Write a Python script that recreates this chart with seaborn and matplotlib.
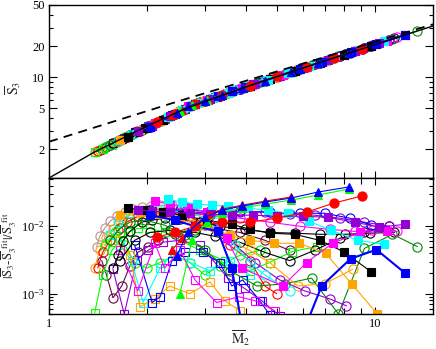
import matplotlib
matplotlib.use("Agg")
import matplotlib.pyplot as plt
import matplotlib.ticker as mticker
import seaborn as sns

# fit (solid) and large-M2 asymptote (dashed)
fit_m2 = [1.0, 1.2, 1.38, 1.7, 2.0, 2.6, 4.0, 6.4, 10.0, 15.0]
fit_s3 = [1.05, 1.46, 1.88, 2.6, 3.35, 4.9, 8.0, 13.1, 20.7, 31.3]
asym_m2 = [1.0, 2.5, 15.0]
asym_s3 = [2.36, 5.85, 32.5]

# --- filled markers ---
tri_blue_m2 = [2.46, 2.66, 3.00, 3.38, 3.89, 4.58, 5.50, 6.65, 8.27]
tri_blue_s3 = [4.45, 5.19, 5.91, 6.72, 7.80, 9.26, 11.21, 13.65, 17.08]
tri_blue_dev = [0.0036, 0.0081, 0.0136, 0.0173, 0.0199, 0.0228, 0.0262, 0.0321, 0.0382]

tri_green_m2 = [2.52, 2.74, 3.04, 3.38, 3.89, 4.58, 5.50, 6.65, 8.27]
tri_green_s3 = [4.7, 5.36, 5.99, 6.72, 7.8, 9.26, 11.21, 13.65, 17.08]
tri_green_dev = [0.0010, 0.0062, 0.0115, 0.0156, 0.0186, 0.0213, 0.0244, 0.0290, 0.0356]

tri_red_m2 = [2.38, 2.55, 2.80, 3.06, 3.38, 3.89, 4.58, 5.50]
tri_red_s3 = [4.25, 4.75, 5.49, 6.04, 6.72, 7.8, 9.26, 11.21]
tri_red_dev = [0.0044, 0.0066, 0.0104, 0.0146, 0.0179, 0.0205, 0.0236, 0.0271]

dot_red_m2 = [2.14, 2.43, 2.80, 3.38, 4.12, 5.01, 6.15, 7.44, 9.06]
dot_red_s3 = [3.65, 4.4, 5.49, 6.72, 8.28, 10.17, 12.59, 15.32, 18.76]
dot_red_dev = [0.0069, 0.0081, 0.0100, 0.0115, 0.0115, 0.0132, 0.0162, 0.0220, 0.0281]

sq_cyan_m2 = [2.31, 2.55, 2.84, 3.15, 3.53, 4.06, 4.68, 5.38, 6.24, 7.33, 8.81, 10.65]
sq_cyan_s3 = [4.07, 4.75, 5.57, 6.23, 7.03, 8.16, 9.47, 10.96, 12.78, 15.09, 18.23, 22.13]
sq_cyan_dev = [0.0253, 0.0228, 0.0213, 0.0205, 0.0199, 0.0186, 0.0173, 0.0156, 0.0119, 0.0087, 0.0062, 0.0054]

sq_violet_m2 = [1.87, 2.07, 2.34, 2.70, 3.11, 3.63, 4.21, 5.01, 5.98, 7.13, 8.63, 10.28, 12.35]
sq_violet_s3 = [2.97, 3.38, 4.15, 5.27, 6.14, 7.25, 8.48, 10.17, 12.23, 14.67, 17.85, 21.34, 25.73]
sq_violet_dev = [0.0173, 0.0167, 0.0162, 0.0156, 0.0151, 0.0146, 0.0146, 0.0141, 0.0141, 0.0136, 0.0115, 0.0097, 0.0107]

sq_black_m2 = [1.74, 1.97, 2.23, 2.55, 3.04, 3.63, 4.12, 4.74, 5.65, 6.74, 7.98, 9.72]
sq_black_s3 = [2.65, 3.22, 3.87, 4.75, 5.99, 7.25, 8.28, 9.6, 11.53, 13.84, 16.47, 20.16]
sq_black_dev = [0.0186, 0.0173, 0.0162, 0.0146, 0.0123, 0.0107, 0.0090, 0.0079, 0.0076, 0.0062, 0.0042, 0.0021]

sq_magenta_m2 = [2.11, 2.34, 2.66, 3.04, 3.50, 3.89, 5.20, 6.15, 7.39, 8.94, 10.88]
sq_magenta_s3 = [3.55, 4.15, 5.19, 5.99, 6.97, 7.8, 10.57, 12.59, 15.22, 18.5, 22.62]
sq_magenta_dev = [0.0236, 0.0213, 0.0192, 0.0162, 0.0066, 0.0024, 0.0013, 0.0029, 0.0056, 0.0081, 0.0084]

sq_orange_m2 = [1.65, 1.90, 2.19, 2.52, 3.00, 3.58, 4.12, 4.88, 5.82, 7.03, 8.45, 10.14]
sq_orange_s3 = [2.44, 3.05, 3.73, 4.7, 5.91, 7.14, 8.28, 9.9, 11.89, 14.45, 17.46, 21.05]
sq_orange_dev = [0.0146, 0.0162, 0.0151, 0.0136, 0.0104, 0.0073, 0.0062, 0.0056, 0.0056, 0.0040, 0.0014, 0.0005]

sq_blue_m2 = [2.04, 2.43, 2.80, 3.29, 3.63, 3.97, 5.86, 6.84, 8.39, 10.07, 12.35]
sq_blue_s3 = [3.3, 4.4, 5.49, 6.52, 7.25, 7.97, 11.97, 14.05, 17.34, 20.9, 25.73]
sq_blue_dev = [0.0146, 0.0123, 0.0100, 0.0084, 0.0024, 0.0002, 0.0002, 0.0013, 0.0033, 0.0045, 0.0020]

# --- open markers ---
o_rosy_m2 = [1.40, 1.43, 1.48, 1.54, 1.61, 1.71, 1.81, 1.92, 2.05, 2.19, 2.38, 2.61]
o_rosy_s3 = [1.92, 1.98, 2.08, 2.2, 2.37, 2.6, 2.83, 3.1, 3.42, 3.72, 4.27, 4.9]
o_rosy_dev = [0.0050, 0.0071, 0.0093, 0.0119, 0.0141, 0.0162, 0.0179, 0.0192, 0.0199, 0.0205, 0.0205, 0.0199]

o_orange_m2 = [1.38, 1.43, 1.49, 1.57, 1.65, 1.74, 1.86, 2.01, 2.19, 2.43, 2.80, 3.22]
o_orange_s3 = [1.88, 1.98, 2.1, 2.28, 2.44, 2.65, 2.95, 3.32, 3.72, 4.4, 5.49, 6.37]
o_orange_dev = [0.0024, 0.0044, 0.0066, 0.0090, 0.0115, 0.0141, 0.0156, 0.0162, 0.0162, 0.0156, 0.0146, 0.0132]

o_orange2_m2 = [2.04, 2.43, 2.90, 3.45, 4.12, 4.74, 5.78, 6.98, 8.51]
o_orange2_s3 = [3.3, 4.4, 5.7, 6.87, 8.28, 9.6, 11.8, 14.35, 17.59]
o_orange2_dev = [0.0151, 0.0132, 0.0104, 0.0066, 0.0044, 0.0029, 0.0013, 0.0014, 0.0023]

o_red_m2 = [1.41, 1.46, 1.54, 1.63, 1.73, 1.87, 2.04, 2.26, 2.61, 3.11, 3.58, 4.12, 4.58, 4.98]
o_red_s3 = [1.9, 2.0, 2.2, 2.4, 2.63, 2.97, 3.3, 3.92, 4.9, 6.14, 7.14, 8.28, 9.26, 10.11]
o_red_dev = [0.0024, 0.0041, 0.0062, 0.0087, 0.0115, 0.0141, 0.0156, 0.0162, 0.0146, 0.0104, 0.0052, 0.0031, 0.0013, 0.0010]

o_maroon_m2 = [1.45, 1.50, 1.57, 1.67, 1.77, 1.87, 2.01, 2.15, 2.43, 2.80, 3.22, 3.84, 4.58, 5.46]
o_maroon_s3 = [2.0, 2.1, 2.28, 2.52, 2.75, 2.97, 3.32, 3.67, 4.4, 5.49, 6.37, 7.69, 9.26, 11.12]
o_maroon_dev = [0.0031, 0.0019, 0.00087, 0.0013, 0.0026, 0.0041, 0.0050, 0.0062, 0.0076, 0.0087, 0.0093, 0.0081, 0.0062, 0.0044]

o_black_m2 = [1.57, 1.63, 1.68, 1.77, 1.92, 2.07, 2.26, 2.52, 2.90, 3.33, 3.97, 4.74, 5.65, 6.74, 8.04, 9.59, 11.43]
o_black_s3 = [2.28, 2.4, 2.5, 2.75, 3.1, 3.38, 3.92, 4.7, 5.7, 6.62, 7.97, 9.6, 11.53, 13.84, 16.59, 19.88, 23.78]
o_black_dev = [0.0024, 0.0037, 0.0060, 0.0084, 0.0115, 0.0123, 0.0132, 0.0127, 0.0115, 0.0100, 0.0090, 0.0081, 0.0079, 0.0076, 0.0076, 0.0079, 0.0081]

o_black2_m2 = [1.65, 1.83, 2.04, 2.34, 2.80, 3.22, 3.84, 4.58, 5.46, 6.51, 7.76, 9.25, 11.03]
o_black2_s3 = [2.44, 2.92, 3.3, 4.15, 5.49, 6.37, 7.69, 9.26, 11.12, 13.35, 16.0, 19.16, 22.93]
o_black2_dev = [0.0031, 0.0062, 0.0081, 0.0087, 0.0081, 0.0071, 0.0058, 0.0041, 0.0031, 0.0044, 0.0066, 0.0081, 0.0100]

o_green4_m2 = [1.54, 1.65, 1.77, 1.97, 2.26, 2.61, 3.00, 3.58, 4.33, 5.27, 6.37, 7.70, 9.25, 11.27, 13.43]
o_green4_s3 = [2.2, 2.44, 2.75, 3.22, 3.92, 4.9, 5.91, 7.14, 8.73, 10.72, 13.05, 15.87, 19.16, 23.44, 28.02]
o_green4_dev = [0.0062, 0.0093, 0.0115, 0.0123, 0.0104, 0.0073, 0.0044, 0.0022, 0.0013, 0.0014, 0.0017, 0.00050, 0.0047, 0.0076, 0.0050]

s_green_m2 = [1.38, 1.46, 1.56, 1.65, 1.74, 1.87, 2.04, 2.26, 2.52, 2.90, 3.45, 4.12, 4.74, 5.54, 6.60]
s_green_s3 = [1.88, 2.0, 2.2, 2.44, 2.65, 2.97, 3.3, 3.92, 4.7, 5.7, 6.87, 8.28, 9.6, 11.29, 13.54]
s_green_dev = [0.00052, 0.0019, 0.0044, 0.0062, 0.0081, 0.0093, 0.0093, 0.0081, 0.0062, 0.0044, 0.0031, 0.0022, 0.0029, 0.0042, 0.0050]

o_lime_m2 = [1.48, 1.59, 1.71, 1.83, 1.99, 2.19, 2.43, 2.70, 3.00, 3.33, 3.84, 4.42]
o_lime_s3 = [2.08, 2.33, 2.6, 2.92, 3.27, 3.72, 4.4, 5.27, 5.91, 6.62, 7.69, 8.92]
o_lime_dev = [0.0052, 0.0081, 0.0052, 0.0029, 0.0024, 0.0029, 0.0037, 0.0029, 0.0019, 0.0026, 0.0037, 0.0044]

s_violet_m2 = [1.57, 1.70, 1.86, 2.01, 2.23, 2.52, 2.90, 3.22, 3.53, 3.97, 4.48, 5.09]
s_violet_s3 = [2.28, 2.58, 2.95, 3.32, 3.87, 4.7, 5.7, 6.37, 7.03, 7.97, 9.05, 10.34]
s_violet_dev = [0.0023, 0.00050, 0.0032, 0.0044, 0.0058, 0.0062, 0.0052, 0.0029, 0.0017, 0.0012, 0.00079, 0.00047]

s_cyan_m2 = [1.54, 1.65, 1.79, 1.94, 2.19, 2.43, 2.70, 3.11, 3.58, 4.12]
s_cyan_s3 = [2.2, 2.44, 2.78, 3.12, 3.72, 4.4, 5.27, 6.14, 7.14, 8.28]
s_cyan_dev = [0.0073, 0.0052, 0.0031, 0.00074, 0.0024, 0.0044, 0.0029, 0.0022, 0.0031, 0.0019]

s_orange_m2 = [1.59, 1.77, 1.90, 2.11, 2.34, 2.70, 3.11, 3.45, 3.84]
s_orange_s3 = [2.33, 2.75, 3.05, 3.55, 4.15, 5.27, 6.14, 6.87, 7.69]
s_orange_dev = [0.0062, 0.0037, 0.00064, 0.00084, 0.0013, 0.0010, 0.0015, 0.00079, 0.00056]

s_blue_m2 = [1.83, 2.07, 2.19, 2.38, 2.61, 2.96, 3.33, 3.63, 3.92, 4.42, 4.74]
s_blue_s3 = [2.92, 3.38, 3.72, 4.27, 4.9, 5.82, 6.62, 7.25, 7.86, 8.92, 9.6]
s_blue_dev = [0.0052, 0.00074, 0.00090, 0.0031, 0.0041, 0.0041, 0.0029, 0.0013, 0.0016, 0.00079, 0.00049]

s_magenta_m2 = [1.65, 1.87, 2.11, 2.26, 2.52, 2.80, 3.26, 3.81, 4.27, 4.91]
s_magenta_s3 = [2.44, 2.97, 3.55, 3.92, 4.7, 5.49, 6.47, 7.63, 8.6, 9.96]
s_magenta_dev = [0.0044, 0.0011, 0.0056, 0.0024, 0.0044, 0.0016, 0.00074, 0.00090, 0.00079, 0.00056]

o_violet_m2 = [2.04, 2.52, 3.11, 3.84, 4.58, 5.46, 6.51, 7.76, 9.25, 11.03]
o_violet_s3 = [3.3, 4.7, 6.14, 7.69, 9.26, 11.12, 13.35, 16.0, 19.16, 22.93]
o_violet_dev = [0.0162, 0.0156, 0.0162, 0.0162, 0.0162, 0.0151, 0.0146, 0.0132, 0.0115, 0.0100]

o_violet2_m2 = [2.52, 3.00, 3.58, 4.27, 5.09, 6.07, 7.23, 8.15]
o_violet2_s3 = [4.7, 5.91, 7.14, 8.6, 10.34, 12.42, 14.88, 16.83]
o_violet2_dev = [0.0132, 0.0104, 0.0062, 0.0029, 0.0016, 0.0011, 0.00084, 0.00066]

o_magenta_m2 = [2.04, 2.52, 3.11, 3.84, 4.74, 5.86, 7.23, 8.63, 9.79, 11.67]
o_magenta_s3 = [3.3, 4.7, 6.14, 7.69, 9.6, 11.97, 14.88, 17.85, 20.3, 24.29]
o_magenta_dev = [0.0173, 0.0162, 0.0146, 0.0132, 0.0115, 0.0100, 0.0090, 0.0084, 0.0087, 0.0084]

o_blue_m2 = [2.04, 2.52, 3.11, 3.84, 4.74, 5.86, 6.98, 8.33, 9.72]
o_blue_s3 = [3.3, 4.7, 6.14, 7.69, 9.6, 11.97, 14.35, 17.21, 20.16]
o_blue_dev = [0.0173, 0.0173, 0.0167, 0.0167, 0.0162, 0.0156, 0.0156, 0.0132, 0.0104]

o_cyan_m2 = [1.63, 1.77, 2.19, 2.70, 3.22, 3.71, 4.12, 4.58, 5.46]
o_cyan_s3 = [2.4, 2.75, 3.72, 5.27, 6.37, 7.41, 8.28, 9.26, 11.12]
o_cyan_dev = [0.0115, 0.0156, 0.0173, 0.0162, 0.0115, 0.0052, 0.0029, 0.0019, 0.0011]

# grace-like palette
BLACK, RED, LIME, BLUE = "#000000", "#ff0000", "#00ff00", "#0000ff"
ROSY, VIOLET, CYAN, MAGENTA = "#bc8f8f", "#9400d3", "#00ffff", "#ff00ff"
ORANGE, MAROON, GREEN4 = "#ffa500", "#670748", "#008b00"

# (m2, s3, dev, color, marker, filled, linewidth) -- open symbols first, filled on top
series = [
    (o_rosy_m2, o_rosy_s3, o_rosy_dev, ROSY, "o", False, 0.8),
    (o_orange_m2, o_orange_s3, o_orange_dev, ORANGE, "o", False, 0.8),
    (o_red_m2, o_red_s3, o_red_dev, RED, "o", False, 0.8),
    (o_maroon_m2, o_maroon_s3, o_maroon_dev, MAROON, "o", False, 0.8),
    (s_green_m2, s_green_s3, s_green_dev, LIME, "s", False, 0.8),
    (o_lime_m2, o_lime_s3, o_lime_dev, LIME, "o", False, 0.8),
    (s_violet_m2, s_violet_s3, s_violet_dev, VIOLET, "s", False, 0.8),
    (s_cyan_m2, s_cyan_s3, s_cyan_dev, CYAN, "s", False, 0.8),
    (s_orange_m2, s_orange_s3, s_orange_dev, ORANGE, "s", False, 0.8),
    (s_blue_m2, s_blue_s3, s_blue_dev, BLUE, "s", False, 0.8),
    (s_magenta_m2, s_magenta_s3, s_magenta_dev, MAGENTA, "s", False, 0.8),
    (o_black_m2, o_black_s3, o_black_dev, BLACK, "o", False, 0.8),
    (o_black2_m2, o_black2_s3, o_black2_dev, BLACK, "o", False, 0.8),
    (o_green4_m2, o_green4_s3, o_green4_dev, GREEN4, "o", False, 0.8),
    (o_orange2_m2, o_orange2_s3, o_orange2_dev, ORANGE, "o", False, 0.8),
    (o_violet_m2, o_violet_s3, o_violet_dev, VIOLET, "o", False, 0.8),
    (o_violet2_m2, o_violet2_s3, o_violet2_dev, VIOLET, "o", False, 0.8),
    (o_magenta_m2, o_magenta_s3, o_magenta_dev, MAGENTA, "o", False, 0.8),
    (o_blue_m2, o_blue_s3, o_blue_dev, BLUE, "o", False, 0.8),
    (o_cyan_m2, o_cyan_s3, o_cyan_dev, CYAN, "o", False, 0.8),
    (sq_orange_m2, sq_orange_s3, sq_orange_dev, ORANGE, "s", True, 0.8),
    (sq_black_m2, sq_black_s3, sq_black_dev, BLACK, "s", True, 0.8),
    (sq_magenta_m2, sq_magenta_s3, sq_magenta_dev, MAGENTA, "s", True, 0.8),
    (sq_cyan_m2, sq_cyan_s3, sq_cyan_dev, CYAN, "s", True, 0.8),
    (sq_violet_m2, sq_violet_s3, sq_violet_dev, VIOLET, "s", True, 0.8),
    (sq_blue_m2, sq_blue_s3, sq_blue_dev, BLUE, "s", True, 1.5),
    (dot_red_m2, dot_red_s3, dot_red_dev, RED, "o", True, 0.8),
    (tri_red_m2, tri_red_s3, tri_red_dev, RED, "^", True, 0.8),
    (tri_green_m2, tri_green_s3, tri_green_dev, LIME, "^", True, 0.8),
    (tri_blue_m2, tri_blue_s3, tri_blue_dev, BLUE, "^", True, 0.8),
]

sns.set_style("ticks")
plt.rcParams["font.family"] = ["Liberation Serif", "DejaVu Serif"]
plt.rcParams["mathtext.fontset"] = "stix"
plt.rcParams["font.size"] = 8.5

fig = plt.figure(figsize=(4.36, 3.49), dpi=100)
ax_top = fig.add_axes([0.1124, 0.490, 0.8807, 0.4957])
ax_bot = fig.add_axes([0.1124, 0.1003, 0.8807, 0.3897], sharex=ax_top)

for ax in (ax_top, ax_bot):
    ax.set_xscale("log")
    ax.set_yscale("log")

msize = {"o": 6.6, "s": 5.6, "^": 6.2}
for m2, s3, dev, color, marker, filled, lw in series:
    style = dict(color=color, marker=marker, markersize=msize[marker],
                 markerfacecolor=color if filled else "none",
                 markeredgecolor=color, markeredgewidth=0.8,
                 linewidth=lw, sort=False, estimator=None, legend=False)
    sns.lineplot(x=m2, y=s3, ax=ax_top, **style)
    sns.lineplot(x=m2, y=dev, ax=ax_bot, **style)

sns.lineplot(x=fit_m2, y=fit_s3, ax=ax_top, color="black", linewidth=1.0,
             sort=False, estimator=None, zorder=5)
sns.lineplot(x=asym_m2, y=asym_s3, ax=ax_top, color="black", linewidth=1.3,
             linestyle=(0, (5, 3.5)), sort=False, estimator=None, zorder=5)

ax_top.set_xlim(1, 15)
ax_top.set_ylim(1.05, 50)
ax_bot.set_ylim(5e-4, 0.052)

# ticks
ax_top.xaxis.set_major_locator(mticker.FixedLocator([1, 10]))
ax_top.xaxis.set_minor_locator(mticker.FixedLocator([2, 3, 4, 5, 6, 7, 8, 9]))
ax_top.xaxis.set_major_formatter(mticker.FixedFormatter(["1", "10"]))
ax_top.xaxis.set_minor_formatter(mticker.NullFormatter())

ax_top.yaxis.set_major_locator(mticker.FixedLocator([2, 5, 10, 20, 50]))
ax_top.yaxis.set_major_formatter(mticker.FixedFormatter(["2", "5", "10", "20", "50"]))
ax_top.yaxis.set_minor_locator(mticker.FixedLocator([3, 4, 6, 7, 8, 9, 30, 40]))
ax_top.yaxis.set_minor_formatter(mticker.NullFormatter())

ax_bot.yaxis.set_major_locator(mticker.LogLocator(base=10, numticks=10))
ax_bot.yaxis.set_minor_locator(mticker.LogLocator(base=10, subs=range(2, 10), numticks=20))
ax_bot.yaxis.set_minor_formatter(mticker.NullFormatter())

for ax in (ax_top, ax_bot):
    ax.tick_params(which="both", direction="in", top=True, right=True,
                   width=0.8, colors="black", labelsize=9, pad=3)
    ax.tick_params(axis="y", which="major", length=6)
    ax.tick_params(axis="y", which="minor", length=3)
    ax.tick_params(axis="x", which="major", length=5)
    ax.tick_params(axis="x", which="minor", length=4)
    for sp in ax.spines.values():
        sp.set_linewidth(1.0)
        sp.set_color("black")

ax_top.tick_params(axis="x", labelbottom=False)

# y labels are anchored at their right edge (rotated text bottom)
ax_top.set_xlabel("")
ax_top.set_ylabel(r"$\overline{\rm S}_3$", fontsize=10)
ax_top.yaxis.set_label_coords(-0.068, 0.52)
ax_bot.set_ylabel(r"$|\overline{\rm S}_3$-$\overline{\rm S}_3^{\ \ \rm fit}|/\overline{\rm S}_3^{\ \ \rm fit}$",
                  fontsize=9.2)
ax_bot.yaxis.set_label_coords(-0.078, 0.5)
ax_bot.set_xlabel(r"$\overline{\rm M}_2$", fontsize=10)
ax_bot.xaxis.set_label_coords(0.5, -0.11)

fig.savefig("out.png", dpi=100)
